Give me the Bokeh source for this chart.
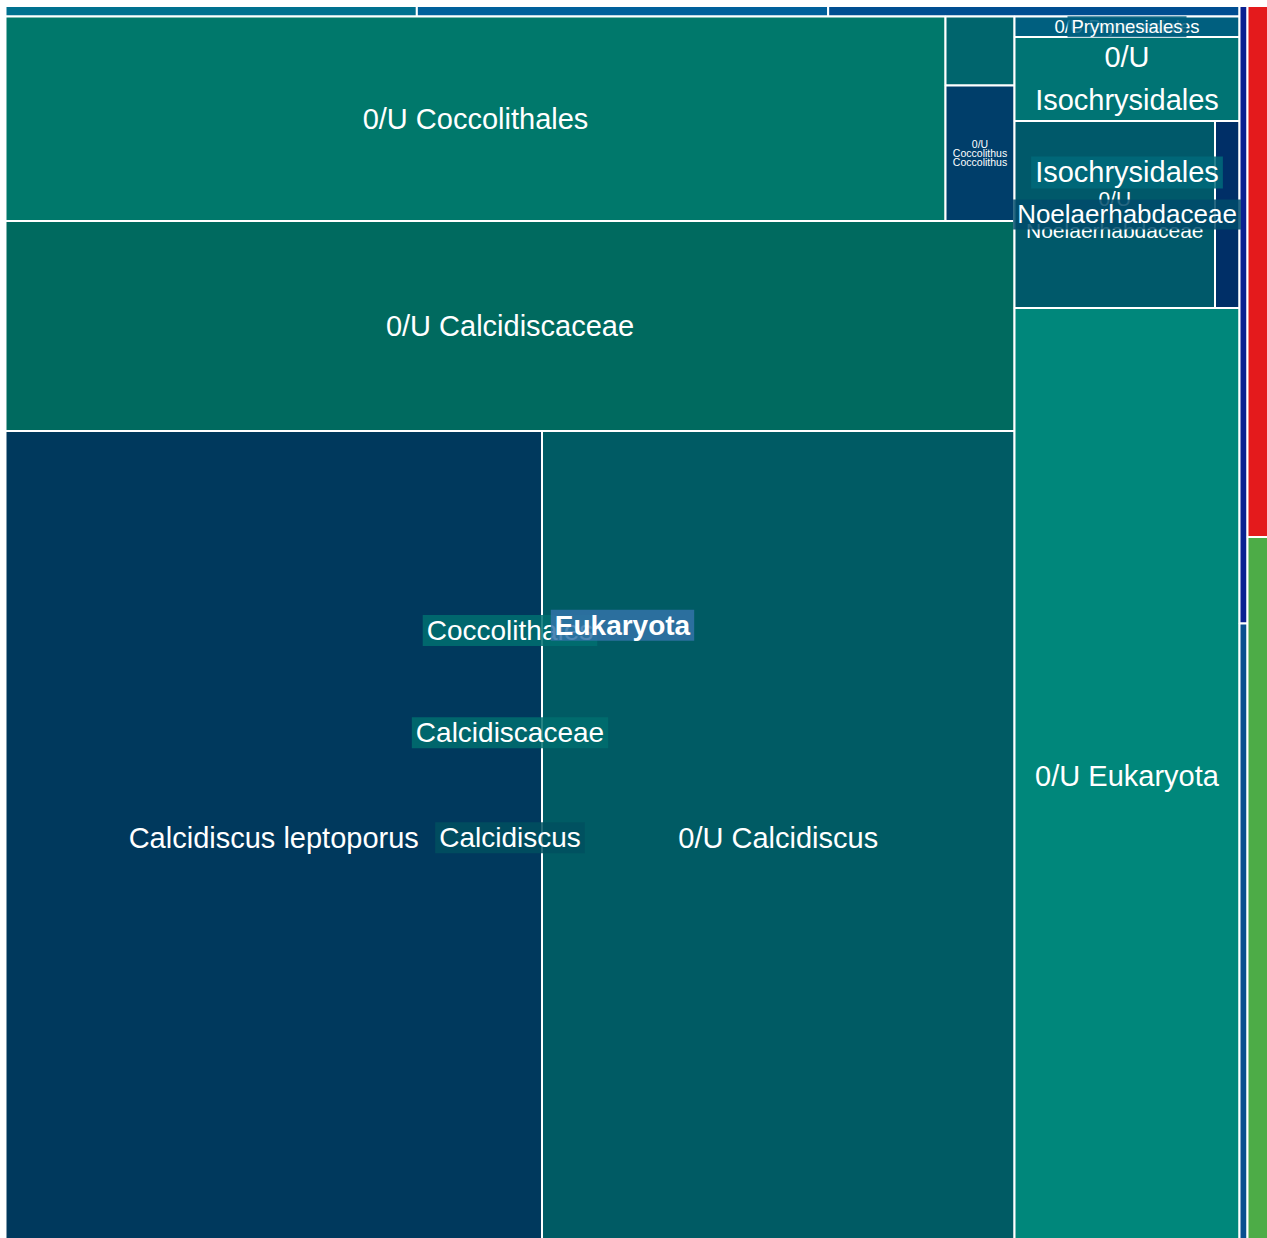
from bokeh.plotting import figure
from bokeh.models import Range1d, ColumnDataSource
from bokeh.core.properties import value
from bokeh.embed import file_html
from bokeh.resources import INLINE

# ---------------- data: hierarchy (sibling order = list order) ----------------
node_ids = [
    "root",
    "Eukaryota", "strip", "t1", "t2", "t3",
    "body", "Coccolithales", "row1", "0/U Coccolithales", "col1", "c1",
    "0/U Coccolithus Coccolithus",
    "Calcidiscaceae", "0/U Calcidiscaceae", "Calcidiscus",
    "Calcidiscus leptoporus", "0/U Calcidiscus",
    "right", "Prymnesiales", "0/U Prymnesiales",
    "Isochrysidales", "0/U Isochrysidales",
    "Noelaerhabdaceae", "0/U Noelaerhabdaceae", "n1",
    "0/U Eukaryota",
    "blue", "b1", "b2",
    "rg", "r1", "g1",
]
node_parents = [
    None,
    "root", "Eukaryota", "strip", "strip", "strip",
    "Eukaryota", "body", "Coccolithales", "row1", "row1", "col1",
    "col1",
    "Coccolithales", "Calcidiscaceae", "Calcidiscaceae",
    "Calcidiscus", "Calcidiscus",
    "body", "right", "Prymnesiales",
    "right", "Isochrysidales",
    "Isochrysidales", "Noelaerhabdaceae", "Noelaerhabdaceae",
    "right",
    "root", "blue", "blue",
    "root", "rg", "rg",
]
node_values = [
    0,
    0, 0, 43.2, 43.2, 43.2,
    0, 0, 0, 1922.3, 0, 47.6,
    93.5,
    0, 2118.9, 0,
    4364.4, 3843.8,
    0, 0, 46.1,
    0, 189.0,
    0, 374.9, 45.8,
    2107.1,
    0, 49.4, 49.7,
    0, 111.5, 148.6,
]
# taxon groups that carry a label
group_labels = ["Prymnesiales", "Noelaerhabdaceae", "Isochrysidales",
                "Calcidiscus", "Calcidiscaceae", "Coccolithales", "Eukaryota"]
# leaves that carry a label (text lines)
leaf_label_lines = {
    "0/U Coccolithales": ["0/U Coccolithales"],
    "0/U Coccolithus Coccolithus": ["0/U", "Coccolithus", "Coccolithus"],
    "0/U Calcidiscaceae": ["0/U Calcidiscaceae"],
    "Calcidiscus leptoporus": ["Calcidiscus leptoporus"],
    "0/U Calcidiscus": ["0/U Calcidiscus"],
    "0/U Prymnesiales": ["0/U Prymnesiales"],
    "0/U Isochrysidales": ["0/U", "Isochrysidales"],
    "0/U Noelaerhabdaceae": ["0/U", "Noelaerhabdaceae"],
    "0/U Eukaryota": ["0/U Eukaryota"],
}

# ---------------- styles / layout ----------------
ORIENT = {"root": "h", "Eukaryota": "v", "strip": "h", "body": "h",
          "Coccolithales": "v", "row1": "h", "col1": "v",
          "Calcidiscaceae": "v", "Calcidiscus": "h", "right": "v",
          "Prymnesiales": "v", "Isochrysidales": "v",
          "Noelaerhabdaceae": "h", "blue": "v", "rg": "v"}
ROOT_BOX = (5.0, 5.5, 1268.0, 1244.0)   # treemap extends a little past the window
FILL = {
    "t1": "#00718f", "t2": "#00609b", "t3": "#004e91",
    "0/U Coccolithales": "#00786b", "c1": "#00656d",
    "0/U Coccolithus Coccolithus": "#003e6a",
    "0/U Calcidiscaceae": "#006a5f",
    "Calcidiscus leptoporus": "#00395d", "0/U Calcidiscus": "#005b64",
    "0/U Prymnesiales": "#005f7f", "0/U Isochrysidales": "#007474",
    "0/U Noelaerhabdaceae": "#00596a", "n1": "#002f67",
    "0/U Eukaryota": "#00877b",
    "b1": "#0a2191", "b2": "#0a4f8f",
    "r1": "#e41a1c", "g1": "#4dac47",
}
LEAF_FONT = {"0/U Prymnesiales": 18.5, "0/U Noelaerhabdaceae": 21,
             "0/U Coccolithus Coccolithus": 10.5}
LEAF_LINESTEP = {"0/U Isochrysidales": 43, "0/U Noelaerhabdaceae": 32,
                 "0/U Coccolithus Coccolithus": 9}
GROUP_FONT = {"Prymnesiales": 18.5, "Noelaerhabdaceae": 26, "Isochrysidales": 29}
GROUP_BG = {"Prymnesiales": "#005f7f", "Noelaerhabdaceae": "#004b6b",
            "Isochrysidales": "#006a7a", "Calcidiscus": "#00505f",
            "Calcidiscaceae": "#006e6e", "Coccolithales": "#007070",
            "Eukaryota": "#3373a8"}

# ---------------- layout (slice and dice from values) ----------------
children = {}
for nid, par in zip(node_ids, node_parents):
    if par is not None:
        children.setdefault(par, []).append(nid)
val = dict(zip(node_ids, node_values))


def total(n):
    if n in children:
        return sum(total(c) for c in children[n])
    return val[n]


boxes = {}


def lay(n, x0, y0, x1, y1):
    boxes[n] = (x0, y0, x1, y1)
    if n not in children:
        return
    tot = total(n)
    pos = x0 if ORIENT[n] == "h" else y0
    for c in children[n]:
        f = total(c) / tot
        if ORIENT[n] == "h":
            w = (x1 - x0) * f
            lay(c, pos, y0, pos + w, y1)
        else:
            w = (y1 - y0) * f
            lay(c, x0, pos, x1, pos + w)
        pos += w


lay("root", *ROOT_BOX)

leaves = [n for n in node_ids if n not in children]
rect_src = ColumnDataSource(dict(
    left=[boxes[n][0] for n in leaves],
    right=[boxes[n][2] for n in leaves],
    top=[boxes[n][1] for n in leaves],
    bottom=[boxes[n][3] for n in leaves],
    color=[FILL[n] for n in leaves],
))

lx, ly, lt, lf = [], [], [], []
for n, lines in leaf_label_lines.items():
    x0, y0, x1, y1 = boxes[n]
    cx, cy = (x0 + x1) / 2, (y0 + y1) / 2
    step = LEAF_LINESTEP.get(n, 0)
    k = len(lines)
    for i, t in enumerate(lines):
        lx.append(cx)
        ly.append(cy + (i - (k - 1) / 2) * step)
        lt.append(t)
        lf.append(f"{LEAF_FONT.get(n, 29)}px")
leaf_src = ColumnDataSource(dict(x=lx, y=ly, text=lt, size=lf))

gx, gy, gt, gf, gb, gs = [], [], [], [], [], []
for g in group_labels:
    x0, y0, x1, y1 = boxes[g]
    gx.append((x0 + x1) / 2)
    gy.append((y0 + y1) / 2)
    gt.append(g)
    gf.append(f"{GROUP_FONT.get(g, 28)}px")
    gb.append(GROUP_BG[g])
    gs.append("bold" if g == "Eukaryota" else "normal")
grp_src = ColumnDataSource(dict(x=gx, y=gy, text=gt, size=gf, bg=gb, style=gs))

# ---------------- figure ----------------
p = figure(width=1267, height=1238, output_backend="svg", toolbar_location=None,
           x_range=Range1d(0, 1267), y_range=Range1d(1238, 0),
           x_axis_location=None, y_axis_location=None,
           min_border=0, min_border_left=0, min_border_right=0,
           min_border_top=0, min_border_bottom=0)
p.grid.visible = False
p.outline_line_color = None
p.background_fill_color = "white"
p.border_fill_color = "white"

p.quad(left="left", right="right", top="top", bottom="bottom", source=rect_src,
       fill_color="color", line_color="white", line_width=2)

p.text(x="x", y="y", text="text", source=leaf_src, text_color="white",
       text_font=value("Liberation Sans"), text_font_size="size",
       text_align="center", text_baseline="middle")

p.text(x="x", y="y", text="text", source=grp_src, text_color="white",
       text_font=value("Liberation Sans"), text_font_size="size",
       text_font_style="style",
       text_align="center", text_baseline="middle",
       background_fill_color="bg", background_fill_alpha=0.85, padding=(4, 0))

open("out.html", "w").write(file_html(p, INLINE))
